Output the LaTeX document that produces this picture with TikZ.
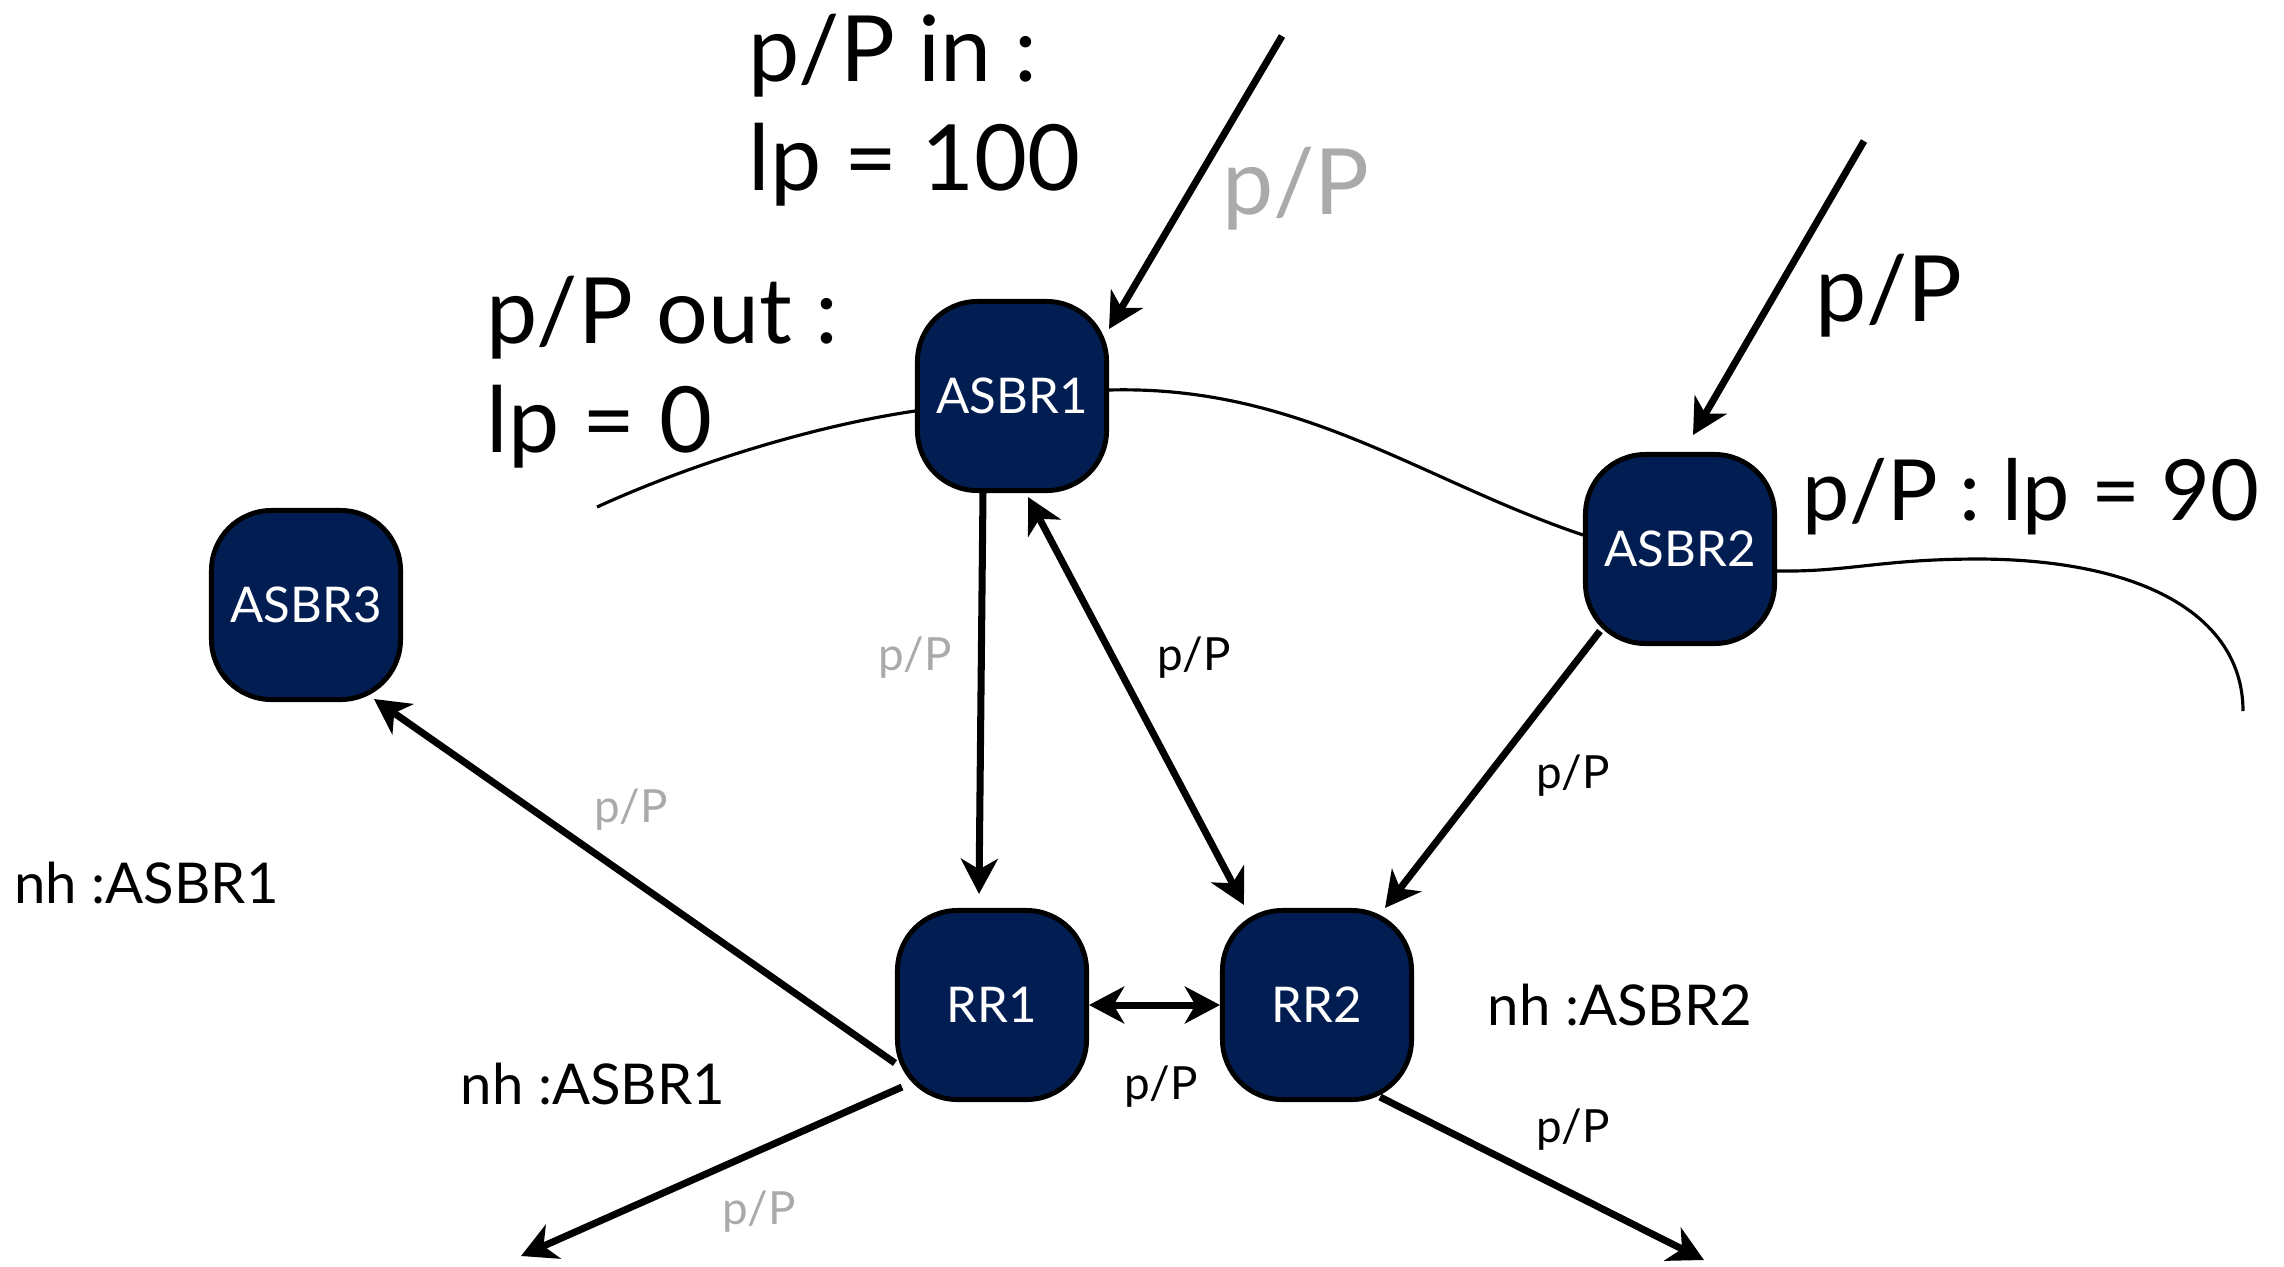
\documentclass[tikz,border=0pt]{standalone}
\usepackage{fontspec}
\setmainfont{Lato}
\usetikzlibrary{arrows.meta}
\definecolor{navy}{RGB}{2,29,82}
\definecolor{pgray}{RGB}{170,170,170}

\begin{document}
\begin{tikzpicture}[x=0.01cm,y=-0.01cm,
    router/.style={draw=black, line width=1.4pt, fill=navy, rounded corners=0.6cm,
      minimum size=1.89cm, text=white, font=\fontsize{14}{16}\selectfont},
    arr/.style={line width=2pt, -{Stealth[length=10pt,width=10.5pt,inset=3pt]}},
    dblarr/.style={line width=2pt, {Stealth[length=10pt,width=10.5pt,inset=3pt]}-{Stealth[length=10pt,width=10.5pt,inset=3pt]}},
    link/.style={line width=0.9pt},
    big/.style={font=\fontsize{26}{31}\selectfont, align=left},
    lbl/.style={font=\fontsize{13}{15}\selectfont},
    nh/.style={font=\fontsize{16}{18}\selectfont}]
  \useasboundingbox (0,0) rectangle (2284,1266);

  %Define nodes
  \node[router] (asbr1) at (1012,396) {ASBR1};
  \node[router] (asbr2) at (1680,549) {ASBR2};
  \node[router] (asbr3) at (306,605) {ASBR3};
  \node[router] (rr1) at (992,1005) {RR1};
  \node[router] (rr2) at (1317,1005) {RR2};

  \coordinate (in1) at (1282,36);
  \coordinate (in2) at (1864,141);
  \coordinate (out1) at (521,1256);
  \coordinate (out2) at (1704,1260);
  \coordinate (edgeL) at (597,507);
  \coordinate (edgeR) at (2243,711);

  % Text
  \node[big, anchor=west] (inlp) at (736,110) {p/P in :\\lp = 100};
  \node[big, anchor=west] (outlp) at (474,372) {p/P out :\\lp = 0};
  \node[big, text=pgray] (pp1) at (1296,189) {p/P};
  \node[big] (pp2) at (1889,296) {p/P};
  \node[font=\fontsize{24}{28}\selectfont, anchor=west] (lp90) at (1790,497) {p/P : lp = 90};

  % Connect the nodes
  \draw[link] (edgeL) .. controls (700,460) and (820,425) .. ([yshift=-0.15cm]asbr1.west);
  \draw[link] ([yshift=0.06cm]asbr1.east) .. controls (1300,385) and (1420,480) .. ([yshift=0.14cm]asbr2.west);
  \draw[link] ([yshift=-0.22cm]asbr2.east) .. controls (1850,572) and (1880,559) .. (1980,559)
    .. controls (2150,560) and (2243,620) .. (edgeR);

  \draw[arr] (in1) -- ([yshift=-0.3cm]asbr1.north east);
  \draw[arr] (in2) -- ([xshift=0.13cm,yshift=0.17cm]asbr2.north);
  \draw[arr] ([xshift=-0.29cm]asbr1.south) -- ([xshift=-0.13cm,yshift=0.14cm]rr1.north);
  \draw[dblarr] ([xshift=0.16cm,yshift=-0.04cm]asbr1.south) -- ([xshift=0.24cm,yshift=0.03cm]rr2.north west);
  \draw[arr] ([xshift=0.17cm,yshift=0.15cm]asbr2.south west) -- ([xshift=-0.29cm]rr2.north east);
  \draw[dblarr] (rr1.east) -- (rr2.west);
  \draw[arr] ([yshift=-0.58cm]rr1.west) -- ([xshift=-0.29cm,yshift=0.03cm]asbr3.south east);
  \draw[arr] ([xshift=0.07cm,yshift=0.15cm]rr1.south west) -- (out1);
  \draw[arr] ([xshift=-0.34cm,yshift=0.05cm]rr2.south east) -- (out2);

  % Edge labels
  \node[lbl, text=pgray] (l1) at (915,658) {p/P};
  \node[lbl] (l2) at (1194,658) {p/P};
  \node[lbl] (l3) at (1573,776) {p/P};
  \node[lbl, text=pgray] (l4) at (631,810) {p/P};
  \node[lbl] (l5) at (1161,1087) {p/P};
  \node[lbl] (l6) at (1573,1130) {p/P};
  \node[lbl, text=pgray] (l7) at (759,1212) {p/P};

  \node[nh, anchor=west] (nh1) at (2,883) {nh :ASBR1};
  \node[nh] (nh2) at (1620,1005) {nh :ASBR2};
  \node[nh] (nh3) at (593,1084) {nh :ASBR1};
\end{tikzpicture}
\end{document}
